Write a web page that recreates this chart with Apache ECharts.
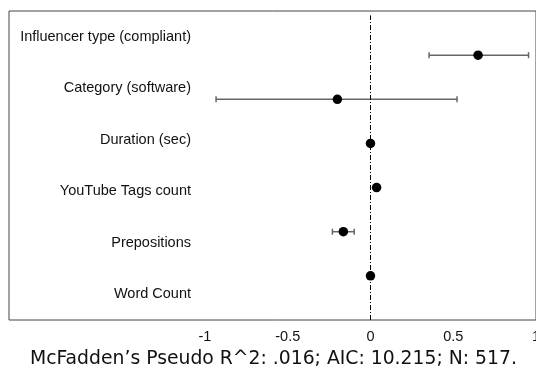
<!DOCTYPE html>
<html>
<head>
<meta charset="utf-8">
<script src="https://cdn.jsdelivr.net/npm/echarts@6/dist/echarts.min.js"></script>
<style>html,body{margin:0;padding:0;background:#fff;}#c{width:536px;height:369px;}</style>
</head>
<body>
<div id="c"></div>
<script>
const variables = ['Influencer type (compliant)', 'Category (software)', 'Duration (sec)', 'YouTube Tags count', 'Prepositions', 'Word Count'];
const estimates = [0.65, -0.2, 0.0, 0.037, -0.164, 0.0];
const lower = [0.354, -0.933, 0.0, 0.037, -0.23, 0.0];
const upper = [0.955, 0.523, 0.0, 0.037, -0.098, 0.0];
const xTicks = [-1, -0.5, 0, 0.5, 1];
const caption = "McFadden\u2019s Pseudo R^2: .016; AIC: 10.215; N: 517.";

const n = variables.length;
const rowOf = i => n - i; // first variable at top
const ciData = variables.map((v, i) => [lower[i], upper[i], rowOf(i)]);
const ptData = variables.map((v, i) => [estimates[i], rowOf(i)]);

const chart = echarts.init(document.getElementById('c'), null, {renderer: 'canvas'});
chart.setOption({
  animation: false,
  backgroundColor: '#fff',
  title: {
    text: caption,
    left: 25,
    top: 345,
    textStyle: {fontFamily: 'DejaVu Sans', fontSize: 18.8, fontWeight: 'normal', color: '#111'}
  },
  grid: {left: 9, right: 0, top: 11, bottom: 49, containLabel: false, outerBoundsMode: 'none',
         show: true, borderColor: '#444', borderWidth: 1, backgroundColor: 'transparent'},
  xAxis: {
    type: 'value', min: -2.184, max: 1,
    axisLine: {show: false}, axisTick: {show: false}, splitLine: {show: false},
    axisLabel: {customValues: xTicks, margin: 9, fontFamily: 'Liberation Sans', fontSize: 14.5, color: '#111', showMaxLabel: true, hideOverlap: false}
  },
  yAxis: [
    {
      type: 'value', min: 0, max: n + 1,
      axisLine: {show: false}, axisTick: {show: false}, splitLine: {show: false},
      axisLabel: {show: false}
    },
    {
      type: 'category', data: variables, inverse: true, position: 'left',
      axisLine: {show: false}, axisTick: {show: false}, splitLine: {show: false},
      axisLabel: {
        margin: -182, align: 'right', interval: 0,
        fontFamily: 'Liberation Sans', fontSize: 14.5, color: '#111'
      }
    }
  ],
  series: [
    {
      type: 'custom',
      data: ciData,
      yAxisIndex: 0,
      encode: {x: [0, 1], y: 2},
      renderItem: (params, api) => {
        const a = api.coord([api.value(0), api.value(2)]);
        const b = api.coord([api.value(1), api.value(2)]);
        const h = 3;
        const style = {stroke: '#666', lineWidth: 1.5};
        return {
          type: 'group',
          children: [
            {type: 'line', shape: {x1: a[0], y1: a[1], x2: b[0], y2: b[1]}, style},
            {type: 'line', shape: {x1: a[0], y1: a[1] - h, x2: a[0], y2: a[1] + h}, style},
            {type: 'line', shape: {x1: b[0], y1: b[1] - h, x2: b[0], y2: b[1] + h}, style}
          ]
        };
      },
      z: 2
    },
    {
      type: 'scatter',
      data: ptData,
      yAxisIndex: 0,
      symbol: 'circle',
      symbolSize: 9.5,
      itemStyle: {color: '#000', opacity: 1},
      z: 3,
      markLine: {
        silent: true,
        symbol: ['none', 'none'],
        label: {show: false},
        lineStyle: {color: '#000', width: 1, type: [5, 2, 1, 2]},
        data: [[{coord: [0, 0]}, {coord: [0, n + 0.9]}]]
      }
    }
  ]
});
</script>
</body>
</html>
